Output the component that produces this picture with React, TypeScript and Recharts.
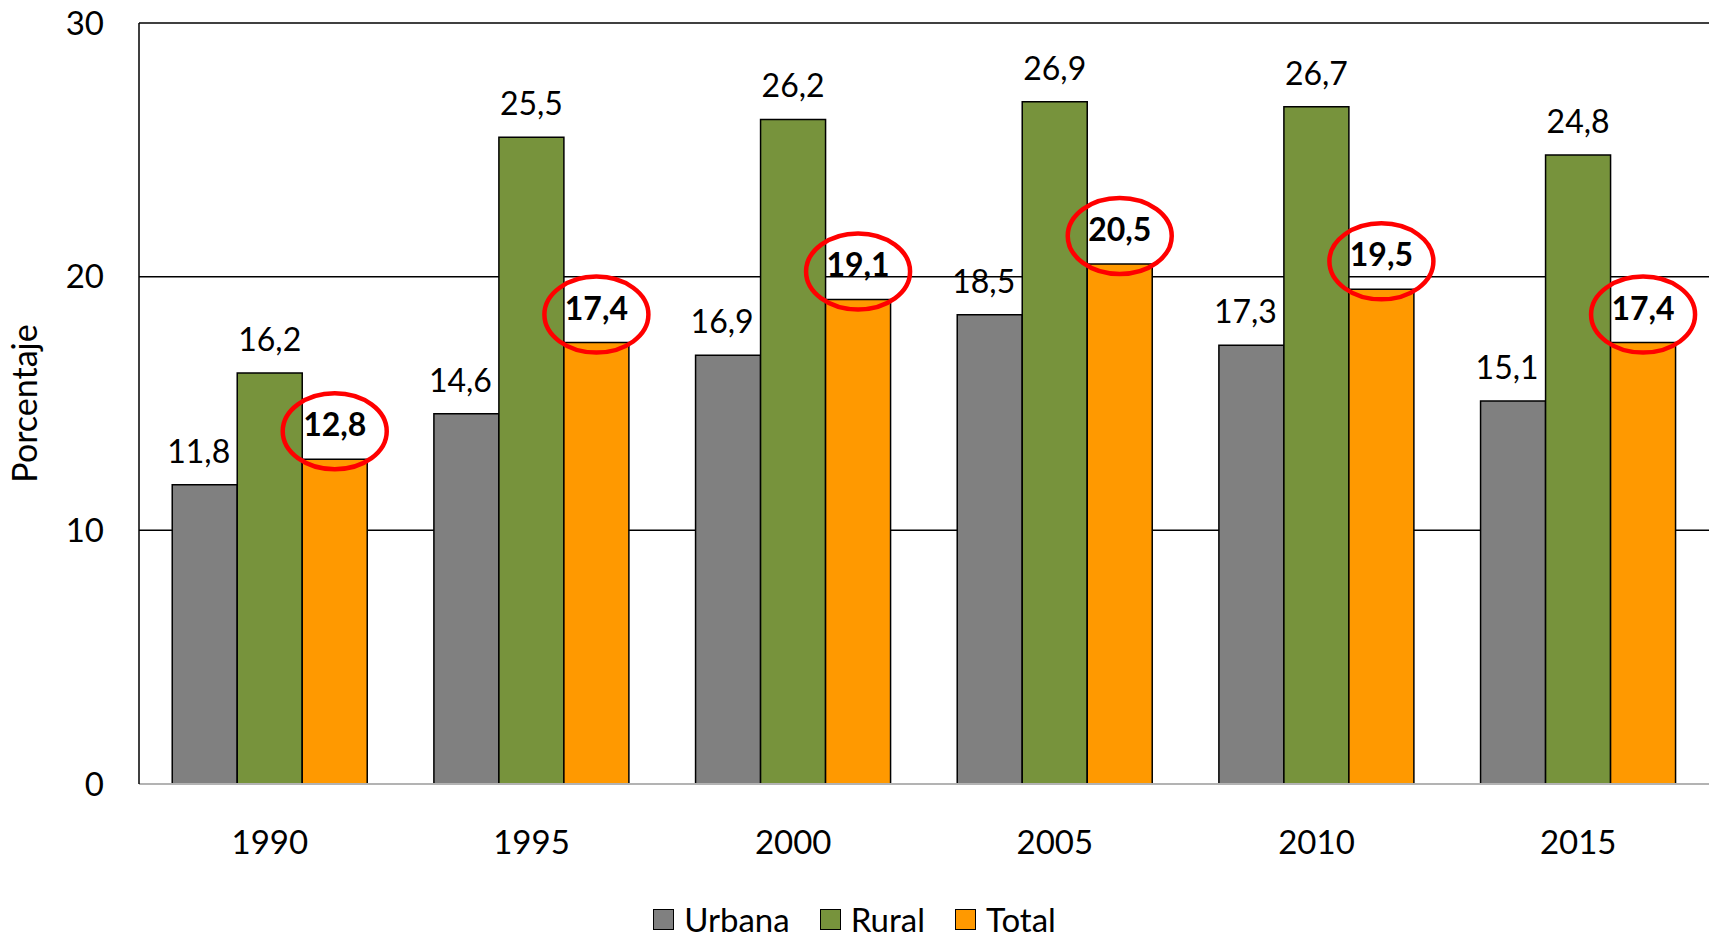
import {
  BarChart,
  Bar,
  XAxis,
  YAxis,
  CartesianGrid,
  Legend,
  LabelList,
} from "recharts";

const years = ["1990", "1995", "2000", "2005", "2010", "2015"];
const urbana = [11.8, 14.6, 16.9, 18.5, 17.3, 15.1];
const rural = [16.2, 25.5, 26.2, 26.9, 26.7, 24.8];
const total = [12.8, 17.4, 19.1, 20.5, 19.5, 17.4];
const yTicks = [0, 10, 20, 30];

const COLORS = { urbana: "#808080", rural: "#77933C", total: "#FF9900" };
const FONT = "Lato, 'Open Sans', sans-serif";

const data = years.map((year, i) => ({
  year,
  urbana: urbana[i],
  rural: rural[i],
  total: total[i],
}));

const fmt = (v: number) => v.toFixed(1).replace(".", ",");

function PlainLabel(props: any) {
  const { x, y, width, value, dx = 0 } = props;
  return (
    <text
      x={x + width / 2 + dx}
      y={y - 22}
      textAnchor="middle"
      fontSize={32}
      fontFamily={FONT}
      fill="#000"
    >
      {fmt(Number(value))}
    </text>
  );
}

function TotalLabel(props: any) {
  const { x, y, width, value } = props;
  const cx = x + width / 2;
  return (
    <g>
      <text
        x={cx}
        y={y - 23}
        textAnchor="middle"
        fontSize={32}
        fontWeight={700}
        fontFamily={FONT}
        fill="#000"
      >
        {fmt(Number(value))}
      </text>
      <ellipse
        cx={cx}
        cy={y - 28}
        rx={52}
        ry={38}
        fill="none"
        stroke="#FF0000"
        strokeWidth={4.5}
      />
    </g>
  );
}

function LegendContent() {
  const items = [
    { name: "Urbana", color: COLORS.urbana },
    { name: "Rural", color: COLORS.rural },
    { name: "Total", color: COLORS.total },
  ];
  return (
    <div
      style={{
        display: "flex",
        justifyContent: "center",
        alignItems: "center",
        gap: 30,
        height: 54,
        paddingTop: 16,
        boxSizing: "border-box",
        fontFamily: FONT,
        fontSize: 33,
        lineHeight: 1,
        color: "#000",
      }}
    >
      {items.map((it) => (
        <div key={it.name} style={{ display: "flex", alignItems: "center", gap: 10 }}>
          <span
            style={{
              width: 19,
              height: 19,
              background: it.color,
              border: "1.5px solid #000",
              display: "inline-block",
            }}
          />
          <span>{it.name}</span>
        </div>
      ))}
    </div>
  );
}

export default function App() {
  return (
    <div style={{ position: "absolute", left: 0, top: 0, background: "#fff" }}>
      <BarChart
        width={1715}
        height={938}
        data={data}
        margin={{ top: 23, right: 6, left: 0, bottom: 0 }}
        barCategoryGap="12.7%"
        barGap={0}
      >
        <CartesianGrid vertical={false} stroke="#000" strokeWidth={1.5} />
        <XAxis
          dataKey="year"
          height={100}
          tickLine={false}
          axisLine={{ stroke: "#b3b3b3", strokeWidth: 2 }}
          tickMargin={41}
          tick={{ fontSize: 33, fill: "#000", fontFamily: FONT }}
        />
        <YAxis
          domain={[0, 30]}
          ticks={yTicks}
          width={139}
          tickLine={false}
          axisLine={{ stroke: "#000", strokeWidth: 1.5 }}
          tickMargin={29}
          tick={{ fontSize: 33, fill: "#000", fontFamily: FONT }}
          label={{
            value: "Porcentaje",
            angle: -90,
            position: "insideLeft",
            offset: 25,
            style: { textAnchor: "middle", fontSize: 34, fill: "#000", fontFamily: FONT },
          }}
        />
        <YAxis
          yAxisId="right"
          orientation="right"
          width={0}
          domain={[0, 30]}
          tick={false}
          tickLine={false}
          axisLine={{ stroke: "#000", strokeWidth: 1.5 }}
        />
        <Legend verticalAlign="bottom" height={54} content={<LegendContent />} />
        <Bar
          dataKey="urbana"
          name="Urbana"
          fill={COLORS.urbana}
          stroke="#000"
          strokeWidth={1.5}
          isAnimationActive={false}
        >
          <LabelList dataKey="urbana" content={<PlainLabel dx={-6} />} />
        </Bar>
        <Bar
          dataKey="rural"
          name="Rural"
          fill={COLORS.rural}
          stroke="#000"
          strokeWidth={1.5}
          isAnimationActive={false}
        >
          <LabelList dataKey="rural" content={<PlainLabel />} />
        </Bar>
        <Bar
          dataKey="total"
          name="Total"
          fill={COLORS.total}
          stroke="#000"
          strokeWidth={1.5}
          isAnimationActive={false}
        >
          <LabelList dataKey="total" content={<TotalLabel />} />
        </Bar>
      </BarChart>
    </div>
  );
}
